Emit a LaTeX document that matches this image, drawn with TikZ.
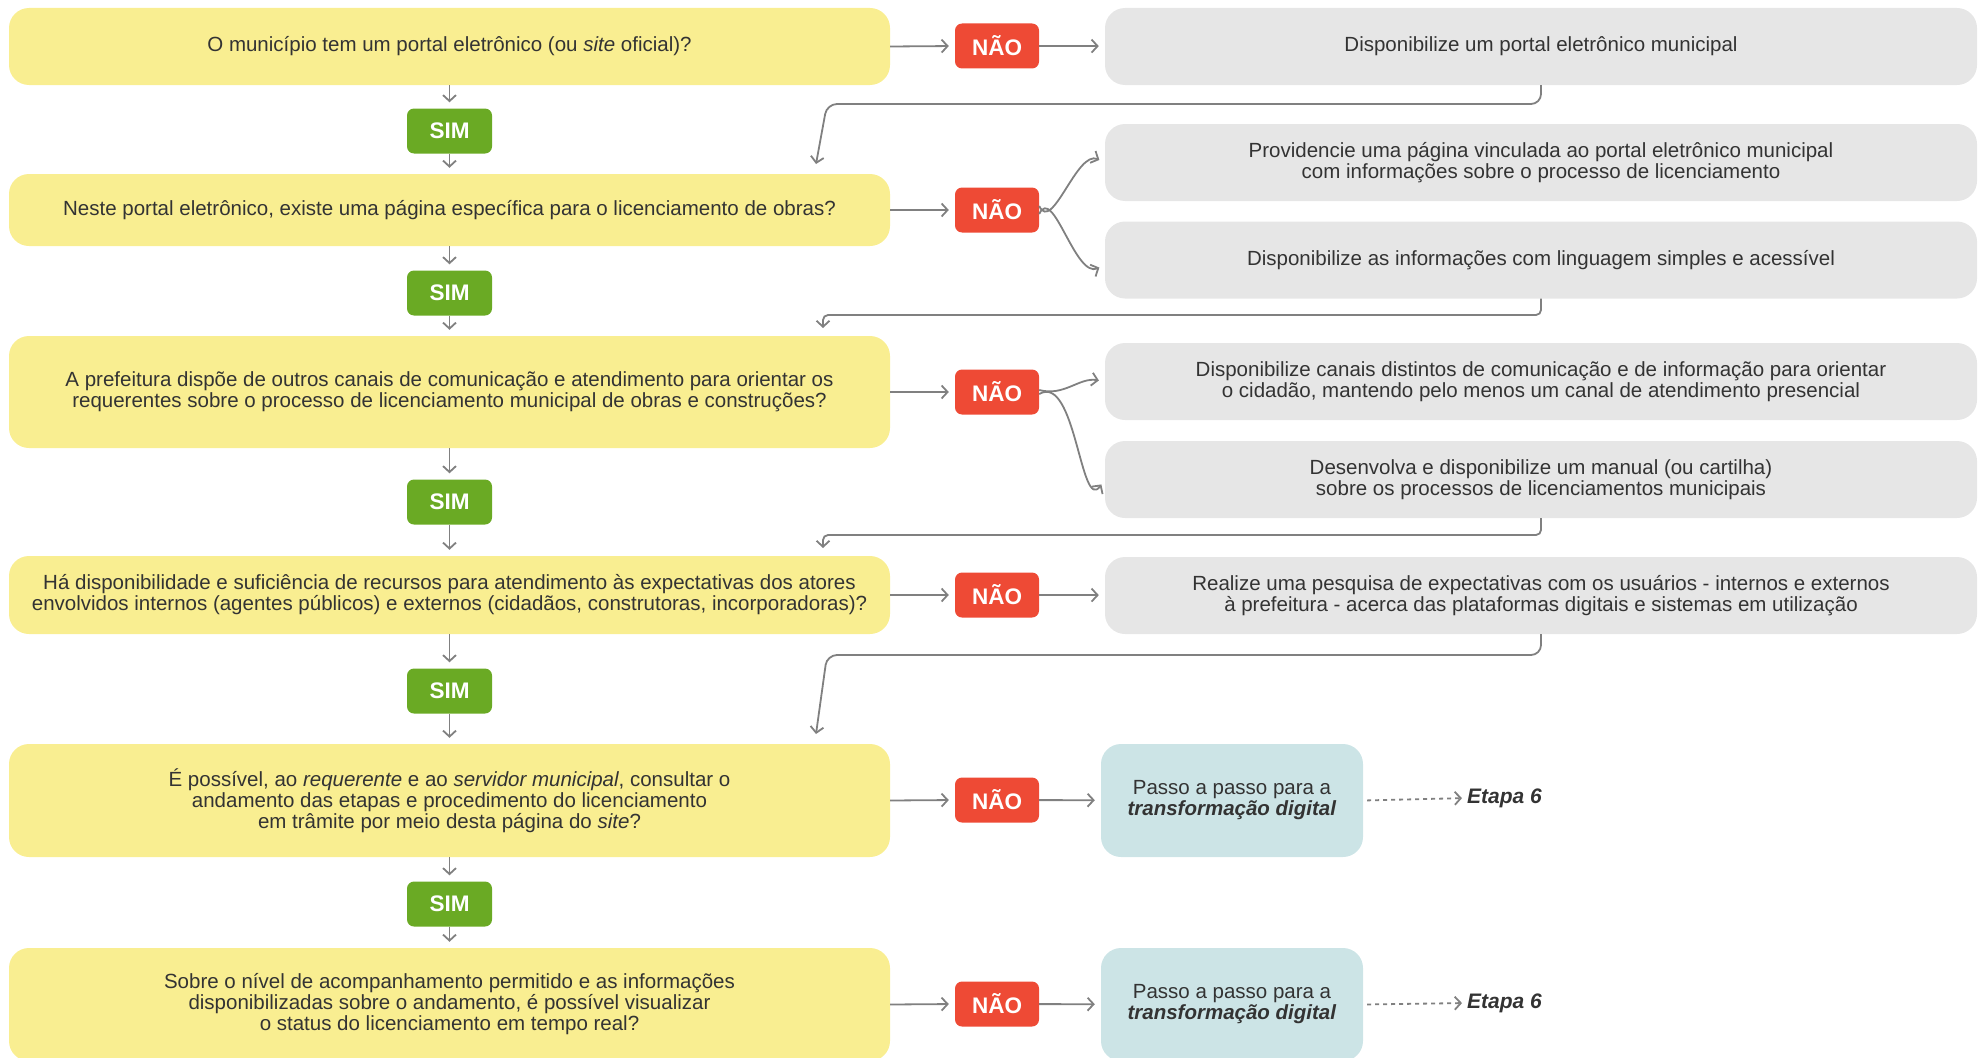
\documentclass[tikz,border=0pt]{standalone}
\usepackage{fontspec}
\setmainfont{Liberation Sans}
\usetikzlibrary{arrows.meta,calc}
\definecolor{qyellow}{HTML}{F9EE91}
\definecolor{simgreen}{HTML}{6AAA24}
\definecolor{naored}{HTML}{EE4A35}
\definecolor{actgray}{HTML}{E6E6E6}
\definecolor{passoteal}{HTML}{CCE4E6}
\definecolor{linegray}{HTML}{808080}
\definecolor{txtgray}{HTML}{333333}
\begin{document}
\begin{tikzpicture}[x=1pt,y=1pt,yscale=-1,
  every node/.style={font=\fontsize{20.5}{21}\selectfont, text=txtgray, align=center, inner sep=0pt},
  question/.style={fill=qyellow, rounded corners=20pt, minimum width=881pt},
  sim/.style={fill=simgreen, rounded corners=7pt, minimum width=85pt, minimum height=45pt, text=white, font=\fontsize{22.5}{24}\selectfont\bfseries},
  nao/.style={fill=naored, rounded corners=7pt, minimum width=84pt, minimum height=45pt, text=white, font=\fontsize{22.5}{24}\selectfont\bfseries},
  action/.style={fill=actgray, rounded corners=20pt, minimum width=872pt, minimum height=77pt},
  passo/.style={fill=passoteal, rounded corners=20pt, minimum width=262pt, minimum height=113pt},
  etapa/.style={font=\fontsize{21}{23}\selectfont\bfseries\itshape},
  arr/.style={draw=linegray, line width=1.8pt, -{Straight Barb[length=6pt,width=13pt]}, shorten >=6pt},
  back/.style={arr, rounded corners=10pt, shorten >=0pt},
  dots/.style={arr, dash pattern=on 4pt off 4pt, shorten <=4pt, shorten >=5pt}]
\useasboundingbox (0,0) rectangle (1980,1057);

%Questions
\node[question, minimum height=77pt] (q1) at (449.5,46.5) {O município tem um portal eletrônico (ou \textit{site} oficial)?};
\node[question, minimum height=72pt] (q2) at (449.5,210) {Neste portal eletrônico, existe uma página específica para o licenciamento de obras?};
\node[question, minimum height=112pt] (q3) at (449.5,392) {A prefeitura dispõe de outros canais de comunicação e atendimento para orientar os\\requerentes sobre o processo de licenciamento municipal de obras e construções?};
\node[question, minimum height=78pt] (q4) at (449.5,595) {Há disponibilidade e suficiência de recursos para atendimento às expectativas dos atores\\envolvidos internos (agentes públicos) e externos (cidadãos, construtoras, incorporadoras)?};
\node[question, minimum height=113pt] (q5) at (449.5,800.5) {É possível, ao \textit{requerente} e ao \textit{servidor municipal}, consultar o\\andamento das etapas e procedimento do licenciamento\\em trâmite por meio desta página do \textit{site}?};
\node[question, minimum height=113pt] (q6) at (449.5,1004.5) {Sobre o nível de acompanhamento permitido e as informações\\disponibilizadas sobre o andamento, é possível visualizar\\o status do licenciamento em tempo real?};

%SIM
\node[sim] (s1) at (449.5,131) {SIM};
\node[sim] (s2) at (449.5,293) {SIM};
\node[sim] (s3) at (449.5,502) {SIM};
\node[sim] (s4) at (449.5,691) {SIM};
\node[sim] (s5) at (449.5,904) {SIM};

%NAO
\node[nao] (n1) at (997,46) {NÃO};
\node[nao] (n2) at (997,210) {NÃO};
\node[nao] (n3) at (997,392) {NÃO};
\node[nao] (n4) at (997,595) {NÃO};
\node[nao] (n5) at (997,800) {NÃO};
\node[nao] (n6) at (997,1004) {NÃO};

%Actions
\node[action] (g1) at (1541,46.5) {Disponibilize um portal eletrônico municipal};
\node[action] (g2a) at (1541,162.5) {Providencie uma página vinculada ao portal eletrônico municipal\\com informações sobre o processo de licenciamento};
\node[action] (g2b) at (1541,260) {Disponibilize as informações com linguagem simples e acessível};
\node[action] (g3a) at (1541,381.5) {Disponibilize canais distintos de comunicação e de informação para orientar\\o cidadão, mantendo pelo menos um canal de atendimento presencial};
\node[action] (g3b) at (1541,479.5) {Desenvolva e disponibilize um manual (ou cartilha)\\sobre os processos de licenciamentos municipais};
\node[action] (g4) at (1541,595.5) {Realize uma pesquisa de expectativas com os usuários - internos e externos\\à prefeitura - acerca das plataformas digitais e sistemas em utilização};

%Passo a passo
\node[passo] (t5) at (1232,800.5) {Passo a passo para a\\\textbf{\textit{transformação digital}}};
\node[passo] (t6) at (1232,1004.5) {Passo a passo para a\\\textbf{\textit{transformação digital}}};
\node[etapa, anchor=west] (e5) at (1467,798) {Etapa 6};
\node[etapa, anchor=west] (e6) at (1467,1003) {Etapa 6};

%Arrows down the SIM column
\foreach \a/\b in {q1/s1,s1/q2,q2/s2,s2/q3,q3/s3,s3/q4,q4/s4,s4/q5,q5/s5,s5/q6}
  \draw[arr] (\a.south) -- (\b.north);

%Arrows to NAO and actions
\foreach \i in {1,2,3,4,5,6}
  \draw[arr] (q\i.east) -- (n\i.west);
\draw[arr] (n1) -- (g1);
\draw[arr] (n4) -- (g4);
\draw[arr] (n5) -- (t5);
\draw[arr] (n6) -- (t6);
\draw[arr] ($(n2.east)+(0,-4)$) to[out=65,in=205] (g2a.west);
\draw[arr] ($(n2.east)+(0,4)$) to[out=-65,in=155] ($(g2b.west)+(0,5)$);
\draw[arr] ($(n3.east)+(0,-2)$) to[out=15,in=190] (g3a.west);
\draw[arr] ($(n3.east)+(0,2)$) to[out=-30,in=125] (g3b.west);

%Back to the next question
\coordinate (r1) at (816,164);
\coordinate (r2) at (823,328);
\coordinate (r3) at (823,548);
\coordinate (r4) at (816,734);
\draw[back] (g1.south) |- ($(r1)+(11,-60)$) -- (r1);
\draw[back, rounded corners=5pt] (g2b.south) |- ($(r2)+(0,-13)$) -- (r2);
\draw[back, rounded corners=5pt] (g3b.south) |- ($(r3)+(0,-13)$) -- (r3);
\draw[back] (g4.south) |- ($(r4)+(11,-79)$) -- (r4);

%Etapa 6
\draw[dots] (t5.east) -- (e5.west);
\draw[dots] (t6.east) -- (e6.west);
\end{tikzpicture}
\end{document}
